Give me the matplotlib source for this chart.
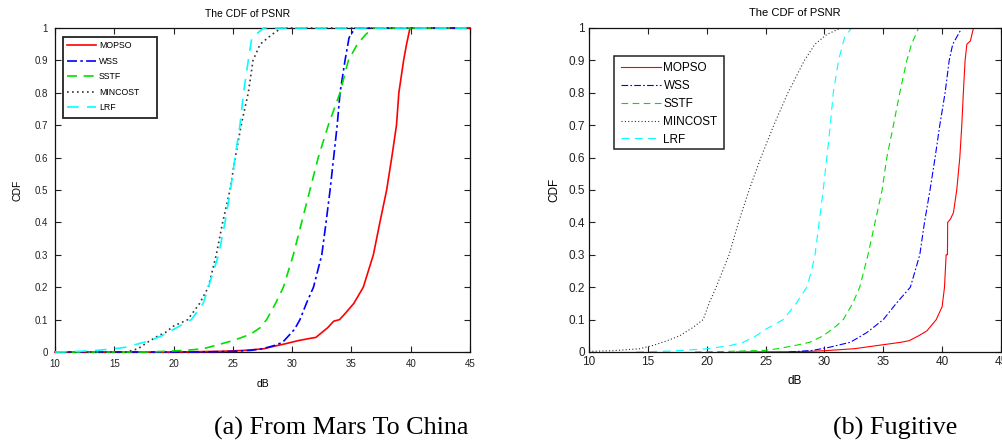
import matplotlib
matplotlib.use('Agg')
import matplotlib.pyplot as plt
from matplotlib.patches import Rectangle

plt.rcParams['font.family'] = ['Liberation Sans', 'DejaVu Sans']

names = ['MOPSO', 'WSS', 'SSTF', 'MINCOST', 'LRF']

# (a) From Mars To China
a_mopso_x = [10, 20, 24, 26, 27.6, 28.5, 29.5, 30.5, 31.5, 32.0, 32.5, 33.0, 33.5, 34.0, 34.5, 35.2, 36.0,
             36.85, 37.4, 37.97, 38.4, 38.8, 39.0, 39.4, 39.65, 39.94, 45]
a_mopso_y = [0, 0, 0.002, 0.005, 0.01, 0.018, 0.026, 0.035, 0.042, 0.045, 0.06, 0.075, 0.095, 0.1, 0.12,
             0.15, 0.2, 0.3, 0.4, 0.5, 0.6, 0.7, 0.8, 0.9, 0.95, 1.0, 1.0]
a_wss_x = [10, 22, 25, 26.5, 27.5, 28.5, 29.2, 29.7, 30.2, 30.66, 31.2, 31.8, 32.5, 32.86, 33.2, 33.5, 33.8,
           34.04, 34.46, 34.8, 35.3, 45]
a_wss_y = [0, 0, 0.002, 0.005, 0.01, 0.02, 0.03, 0.05, 0.07, 0.1, 0.15, 0.2, 0.3, 0.4, 0.5, 0.6, 0.7, 0.8,
           0.9, 0.97, 1.0, 1.0]
a_sstf_x = [10, 18, 21, 22.5, 23.5, 25, 26.5, 27.3, 27.85, 28.6, 29.26, 30.1, 30.8, 31.5, 32.2, 33.05, 34.04,
            34.74, 35.5, 36.2, 36.85, 45]
a_sstf_y = [0, 0, 0.005, 0.01, 0.02, 0.035, 0.055, 0.075, 0.1, 0.15, 0.2, 0.3, 0.4, 0.5, 0.6, 0.7, 0.8, 0.9,
            0.95, 0.98, 1.0, 1.0]
a_mincost_x = [10, 16, 16.5, 17, 17.8, 18.7, 19.3, 20.0, 20.6, 21.2, 22.2, 22.93, 23.6, 24.14, 24.76, 25.2,
               25.7, 26.3, 26.7, 27.3, 28.3, 29.1, 45]
a_mincost_y = [0, 0, 0.005, 0.01, 0.03, 0.05, 0.06, 0.08, 0.09, 0.1, 0.15, 0.2, 0.3, 0.4, 0.5, 0.6, 0.7, 0.8,
               0.9, 0.95, 0.98, 1.0, 1.0]
a_lrf_x = [10, 12, 13.5, 15, 16, 17, 18, 19, 20, 20.5, 21.5, 22.5, 22.93, 23.8, 24.34, 24.8, 25.18, 25.6,
           25.9, 26.3, 26.6, 27.6, 45]
a_lrf_y = [0, 0.002, 0.005, 0.01, 0.015, 0.025, 0.035, 0.05, 0.07, 0.08, 0.1, 0.15, 0.2, 0.3, 0.4, 0.5, 0.6,
           0.7, 0.8, 0.9, 0.97, 1.0, 1.0]

# (b) Fugitive
b_mopso_x = [22.5, 28, 30, 32.5, 34.5, 35.5, 36.5, 37.2, 38.0, 38.7, 39.5, 40.0, 40.2, 40.34, 40.45, 40.47,
             40.7, 40.96, 41.24, 41.5, 41.67, 41.8, 41.95, 42.1, 42.4, 42.66]
b_mopso_y = [0, 0.001, 0.004, 0.01, 0.02, 0.025, 0.03, 0.035, 0.05, 0.065, 0.1, 0.14, 0.2, 0.3, 0.3, 0.4,
             0.41, 0.43, 0.5, 0.6, 0.7, 0.8, 0.9, 0.95, 0.96, 1.0]
b_wss_x = [27, 29, 30.47, 32.2, 33.6, 35.0, 36.1, 37.3, 38.1, 38.5, 38.97, 39.4, 39.8, 40.25, 40.6, 40.9, 41.67]
b_wss_y = [0, 0.005, 0.015, 0.03, 0.06, 0.1, 0.15, 0.2, 0.3, 0.4, 0.5, 0.6, 0.7, 0.8, 0.9, 0.95, 1.0]
b_sstf_x = [19, 22, 25, 26, 27.5, 28.76, 29.9, 31.0, 31.6, 32.4, 33.0, 33.7, 34.3, 34.9, 35.3, 35.86, 36.4,
            37.0, 37.4, 38.0, 38.6]
b_sstf_y = [0, 0.002, 0.005, 0.01, 0.02, 0.03, 0.05, 0.08, 0.1, 0.15, 0.2, 0.3, 0.4, 0.5, 0.6, 0.7, 0.8,
            0.9, 0.95, 1.0, 1.0]
b_mincost_x = [10, 12, 14.3, 15.4, 16.5, 17.7, 18.8, 19.7, 20.2, 20.8, 21.9, 22.7, 23.6, 24.6, 25.7, 26.9,
               28.3, 29.2, 30.2, 31.4]
b_mincost_y = [0.002, 0.004, 0.01, 0.02, 0.033, 0.05, 0.075, 0.1, 0.15, 0.2, 0.3, 0.4, 0.5, 0.6, 0.7, 0.8,
               0.9, 0.95, 0.98, 1.0]
b_lrf_x = [14, 17, 18, 20, 22, 23.1, 24.2, 25.0, 26.5, 27.6, 28.5, 28.9, 29.2, 29.55, 29.9, 30.2, 30.5,
           30.75, 31.2, 31.7, 32.3]
b_lrf_y = [0, 0.003, 0.005, 0.01, 0.02, 0.03, 0.05, 0.07, 0.1, 0.15, 0.2, 0.25, 0.3, 0.4, 0.5, 0.6, 0.7,
           0.8, 0.9, 0.97, 1.0]

xticks = [10, 15, 20, 25, 30, 35, 40, 45]
yticks = [0, 0.1, 0.2, 0.3, 0.4, 0.5, 0.6, 0.7, 0.8, 0.9, 1]
yticklabels = ['0', '0.1', '0.2', '0.3', '0.4', '0.5', '0.6', '0.7', '0.8', '0.9', '1']

colors = ['#ff0000', '#0000ff', '#00e000', '#333333', '#00ffff']
styles = ['-', (0, (6, 2, 1.5, 2)), (0, (6, 4)), (0, (1, 2)), (0, (7, 5))]

W, H = 1002, 445
fig = plt.figure(figsize=(W / 100, H / 100), dpi=100)


def px_axes(left, top, right, bottom):
    return fig.add_axes([left / W, 1 - bottom / H, (right - left) / W, (bottom - top) / H])


def style_axes(ax, fs, pad):
    ax.set_xlim(10, 45)
    ax.set_ylim(0, 1)
    ax.set_xticks(xticks)
    ax.set_yticks(yticks)
    ax.set_yticklabels(yticklabels)
    ax.tick_params(direction='in', top=True, right=True, length=4, width=0.8,
                   labelsize=fs, pad=pad, colors='#222222')
    for s in ax.spines.values():
        s.set_linewidth(0.9)
        s.set_color('#111111')


def legend_box(ax, left, top, right, bottom, lw):
    # MATLAB-like legend frame, drawn in pixel coords of the axes
    x0, x1 = ax.get_position().x0 * W, ax.get_position().x1 * W
    y0, y1 = (1 - ax.get_position().y1) * H, (1 - ax.get_position().y0) * H
    fx = lambda p: (p - x0) / (x1 - x0)
    fy = lambda p: (y1 - p) / (y1 - y0)
    ax.add_patch(Rectangle((fx(left), fy(bottom)), fx(right) - fx(left), fy(top) - fy(bottom),
                           transform=ax.transAxes, facecolor='white', edgecolor='#222222',
                           linewidth=lw, zorder=4))
    return fx, fy


# left panel
ax1 = px_axes(55, 28, 470, 352)
data_a = [(a_mopso_x, a_mopso_y), (a_wss_x, a_wss_y), (a_sstf_x, a_sstf_y),
          (a_mincost_x, a_mincost_y), (a_lrf_x, a_lrf_y)]
for (x, y), c, ls, n in zip(data_a, colors, styles, names):
    ax1.plot(x, y, color=c, linestyle=ls, linewidth=1.2, label=n, clip_on=False, zorder=3)
style_axes(ax1, 7, 5)
ax1.set_title('The CDF of PSNR', fontsize=7.5, x=0.463, pad=8)
ax1.set_xlabel('dB', fontsize=7.5, labelpad=7)
ax1.set_ylabel('CDF', fontsize=7.5, labelpad=9)
fx, fy = legend_box(ax1, 63, 37, 157, 118, 1.3)
leg1 = ax1.legend(loc='upper left', bbox_to_anchor=(fx(67), fy(41)), fontsize=6.3, frameon=False,
                  handlelength=3.3, borderpad=0, labelspacing=0.75, handletextpad=0.35,
                  borderaxespad=0)
leg1.set_zorder(5)

# right panel
ax2 = px_axes(589, 28, 1001, 352)
data_b = [(b_mopso_x, b_mopso_y), (b_wss_x, b_wss_y), (b_sstf_x, b_sstf_y),
          (b_mincost_x, b_mincost_y), (b_lrf_x, b_lrf_y)]
for (x, y), c, ls, n in zip(data_b, colors, styles, names):
    ax2.plot(x, y, color=c, linestyle=ls, linewidth=0.8, label=n)
style_axes(ax2, 8.5, 3)
ax2.set_title('The CDF of PSNR', fontsize=8, pad=9)
ax2.set_xlabel('dB', fontsize=8.5, labelpad=5)
ax2.set_ylabel('CDF', fontsize=8.5, labelpad=6)
gx, gy = legend_box(ax2, 614, 56, 724, 149, 1.1)
leg2 = ax2.legend(loc='upper left', bbox_to_anchor=(gx(621), gy(62)), fontsize=8.5, frameon=False,
                  handlelength=3.4, borderpad=0, labelspacing=0.5, handletextpad=0.2,
                  borderaxespad=0)
leg2.set_zorder(5)

# captions
fig.text(341 / W, 1 - 428 / H, '(a) From Mars To China', fontsize=18.8, family='Liberation Serif',
         ha='center', va='center')
fig.text(895 / W, 1 - 428 / H, '(b) Fugitive', fontsize=18.8, family='Liberation Serif',
         ha='center', va='center')

fig.savefig('out.png', dpi=100)
